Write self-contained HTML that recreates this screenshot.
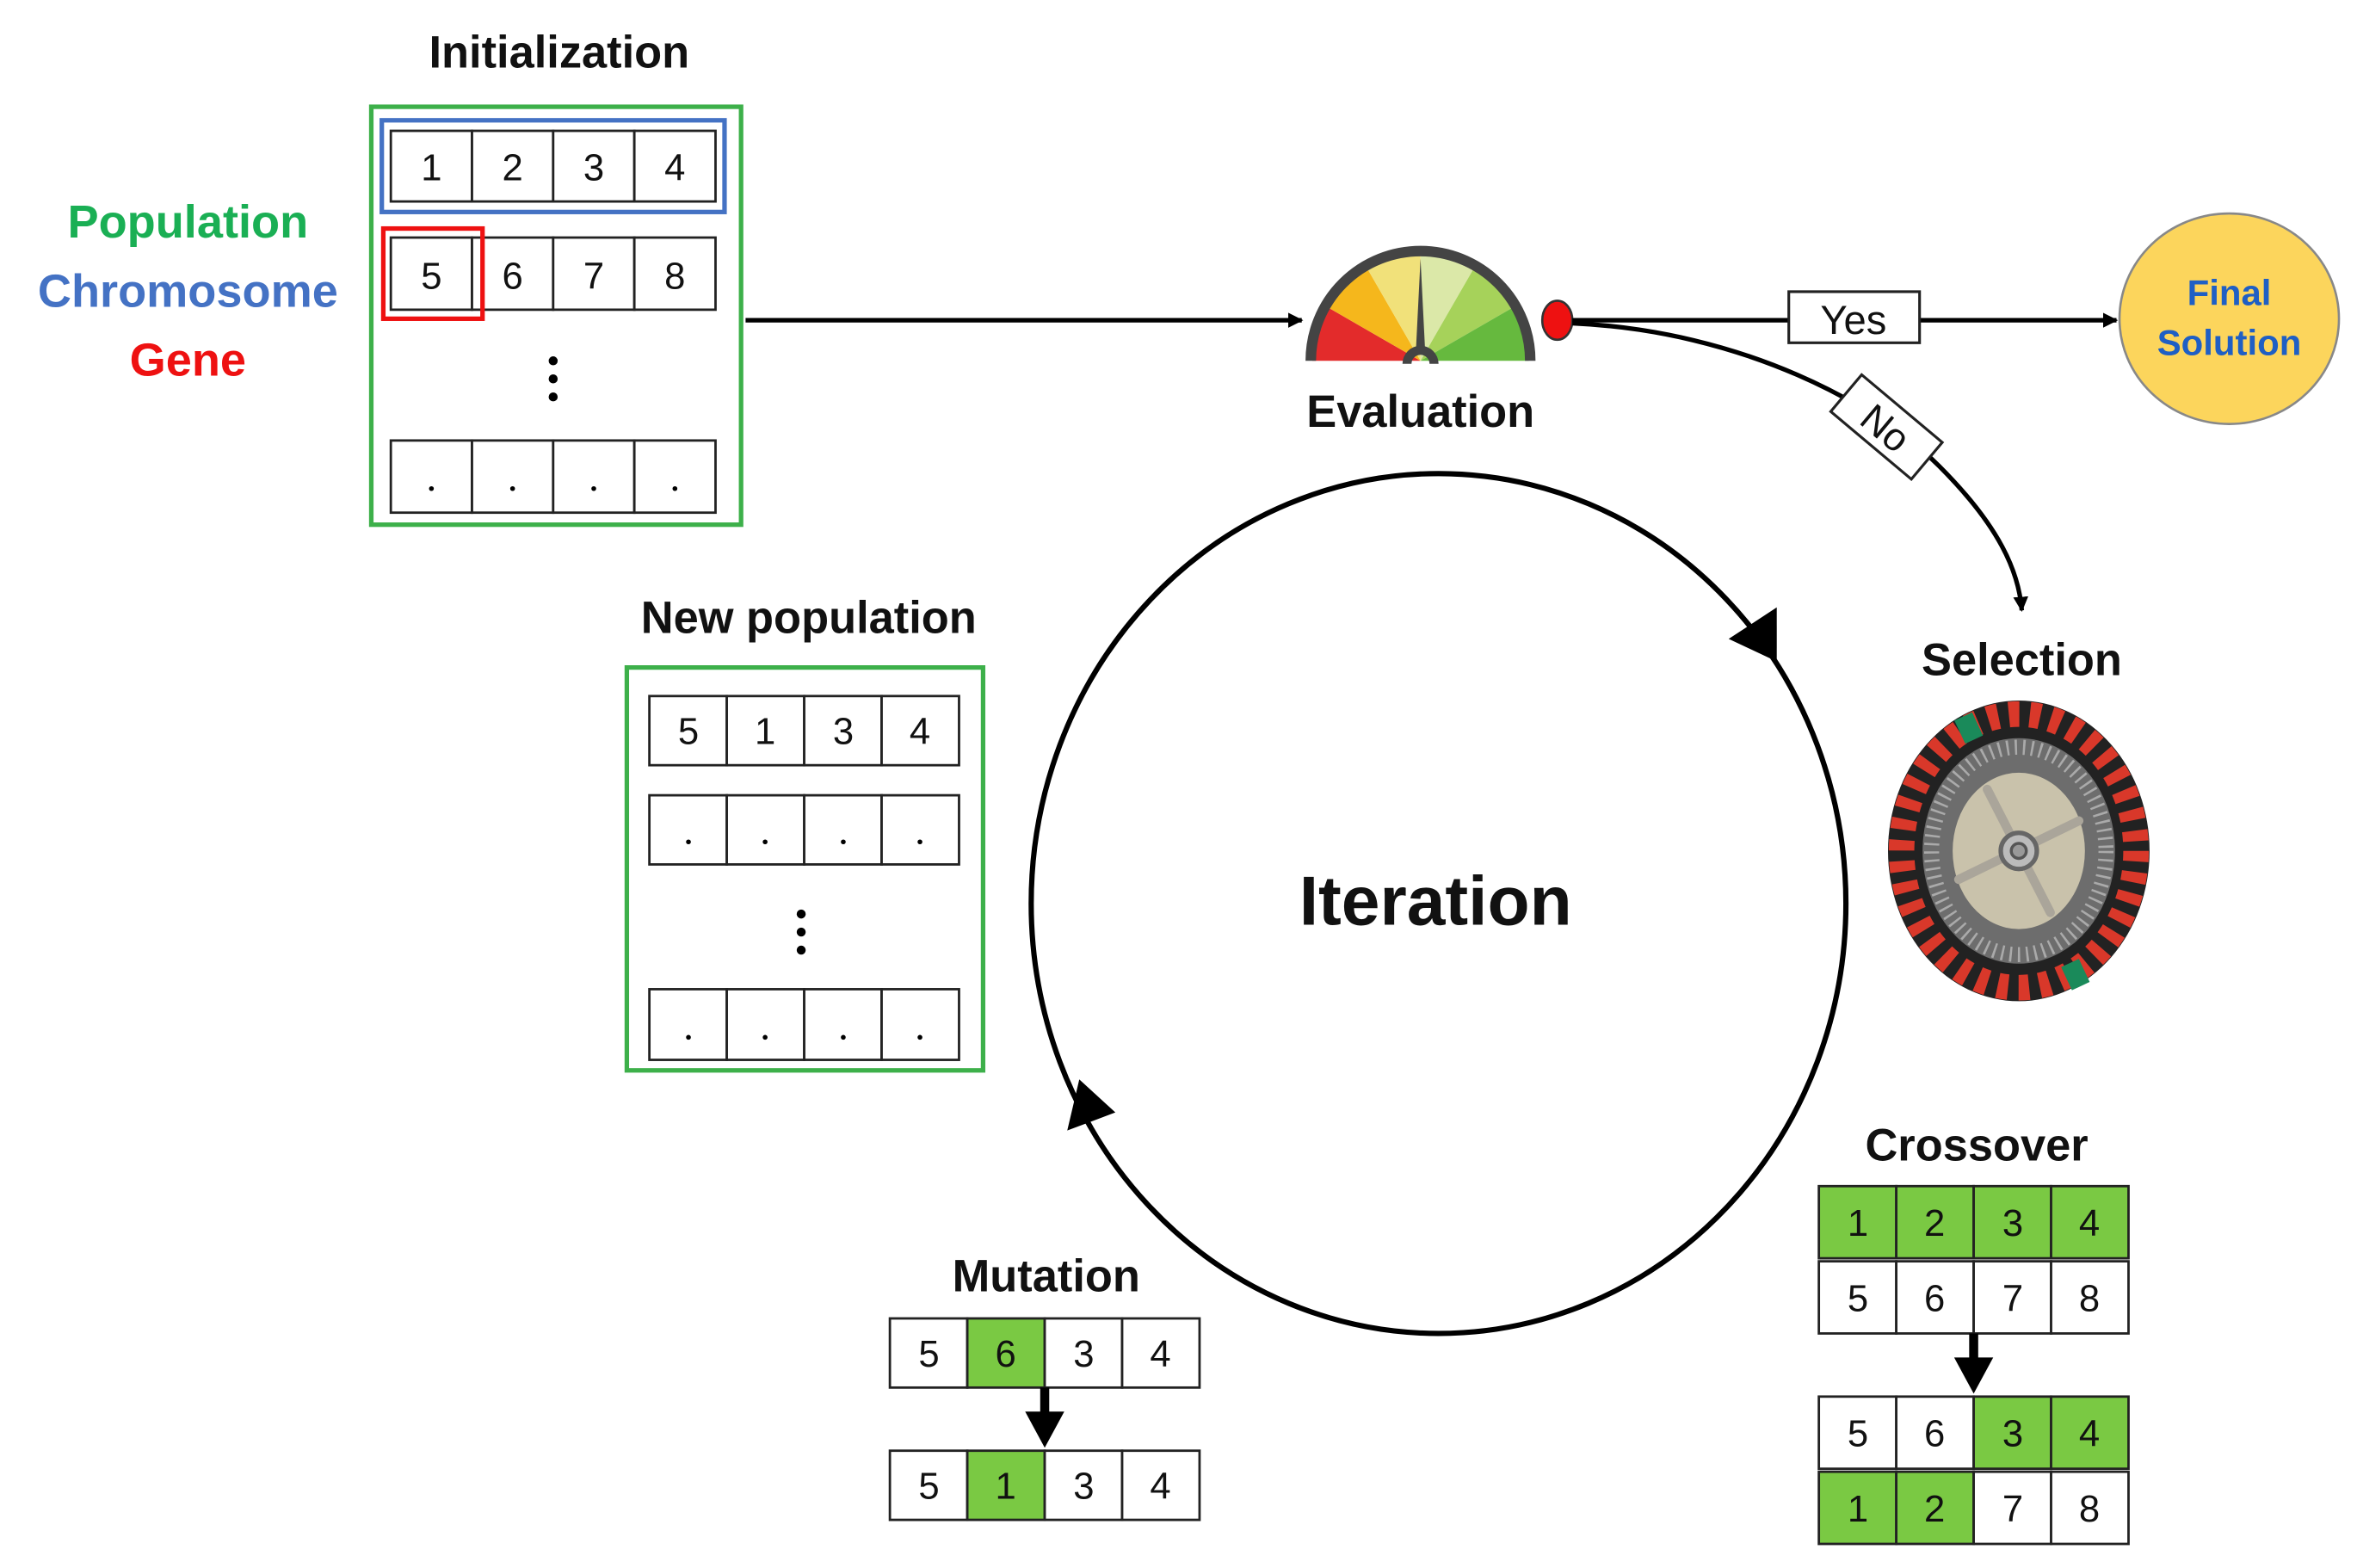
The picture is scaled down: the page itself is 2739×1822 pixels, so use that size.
<!DOCTYPE html>
<html><head><meta charset="utf-8"><style>
html,body{margin:0;padding:0;background:#fff}
svg{display:block}
text{font-family:"Liberation Sans",sans-serif}
.b{font-weight:bold}
.c{fill:#fff;stroke:#222;stroke-width:1.6}
.g{fill:#7ac943;stroke:#222;stroke-width:1.6}
.n{font-size:25px;text-anchor:middle;fill:#111}
.t{font-size:30px;font-weight:bold;text-anchor:middle;fill:#111}
</style></head><body>
<svg width="2739" height="1822" viewBox="0 0 1568 1043" xmlns="http://www.w3.org/2000/svg">
<defs>
<marker id="ah" markerWidth="10" markerHeight="10" refX="9" refY="5" orient="auto" markerUnits="userSpaceOnUse"><path d="M0,0 L10,5 L0,10 z" fill="#000"/></marker>
</defs>
<rect width="1568" height="1043" fill="#fff"/>

<!-- Initialization -->
<text class="t" x="372" y="45">Initialization</text>
<text class="b" x="125" y="158" font-size="31" text-anchor="middle" fill="#1aaf54">Population</text>
<text class="b" x="125" y="204" font-size="31" text-anchor="middle" fill="#4472c4">Chromosome</text>
<text class="b" x="125" y="250" font-size="31" text-anchor="middle" fill="#ee1111">Gene</text>
<rect x="247" y="71" width="246" height="278" fill="none" stroke="#3db04a" stroke-width="3"/>
<rect x="254" y="80" width="228" height="61" fill="none" stroke="#4472c4" stroke-width="3"/>
<g>
<rect class="c" x="260" y="87" width="54" height="47"/><rect class="c" x="314" y="87" width="54" height="47"/><rect class="c" x="368" y="87" width="54" height="47"/><rect class="c" x="422" y="87" width="54" height="47"/>
<text class="n" x="287" y="120">1</text><text class="n" x="341" y="120">2</text><text class="n" x="395" y="120">3</text><text class="n" x="449" y="120">4</text>
<rect class="c" x="260" y="158" width="54" height="48"/><rect class="c" x="314" y="158" width="54" height="48"/><rect class="c" x="368" y="158" width="54" height="48"/><rect class="c" x="422" y="158" width="54" height="48"/>
<text class="n" x="287" y="192">5</text><text class="n" x="341" y="192">6</text><text class="n" x="395" y="192">7</text><text class="n" x="449" y="192">8</text>
<rect x="255" y="152" width="66" height="60" fill="none" stroke="#ee1111" stroke-width="3"/>
<circle cx="368" cy="240" r="3"/><circle cx="368" cy="252" r="3"/><circle cx="368" cy="264" r="3"/>
<rect class="c" x="260" y="293" width="54" height="48"/><rect class="c" x="314" y="293" width="54" height="48"/><rect class="c" x="368" y="293" width="54" height="48"/><rect class="c" x="422" y="293" width="54" height="48"/>
<circle cx="287" cy="325" r="1.6"/><circle cx="341" cy="325" r="1.6"/><circle cx="395" cy="325" r="1.6"/><circle cx="449" cy="325" r="1.6"/>
</g>
<line x1="496" y1="213" x2="866" y2="213" stroke="#000" stroke-width="3" marker-end="url(#ah)"/>

<!-- Gauge -->
<g transform="translate(945,240)">
<path d="M-72,0 A72,72 0 0 1 -62.4,-36 L0,0 z" fill="#e32b2b"/>
<path d="M-62.4,-36 A72,72 0 0 1 -36,-62.4 L0,0 z" fill="#f5b71c"/>
<path d="M-36,-62.4 A72,72 0 0 1 0,-72 L0,0 z" fill="#f1e17a"/>
<path d="M0,-72 A72,72 0 0 1 36,-62.4 L0,0 z" fill="#dbe8a8"/>
<path d="M36,-62.4 A72,72 0 0 1 62.4,-36 L0,0 z" fill="#a6d25a"/>
<path d="M62.4,-36 A72,72 0 0 1 72,0 L0,0 z" fill="#66b93e"/>
<path d="M-73,0 A73,73 0 0 1 73,0" fill="none" stroke="#444" stroke-width="7"/>
<path d="M-12,2 A12,12 0 0 1 12,2 L6,2 A6,6 0 0 0 -6,2 z" fill="#444"/>
<path d="M-3,-8 L0,-68 L3,-8 z" fill="#444"/>
</g>
<text class="t" x="945" y="284">Evaluation</text>
<ellipse cx="1036" cy="213" rx="10" ry="13" fill="#ee1111" stroke="#333" stroke-width="1.5"/>
<line x1="1046" y1="213" x2="1408" y2="213" stroke="#000" stroke-width="3" marker-end="url(#ah)"/>
<rect x="1190" y="194" width="87" height="34" fill="#fff" stroke="#222" stroke-width="1.8"/>
<text x="1233" y="222" font-size="27" text-anchor="middle" fill="#111">Yes</text>
<ellipse cx="1483" cy="212" rx="73" ry="70" fill="#fcd55c" stroke="#888" stroke-width="1.5"/>
<text class="b" x="1483" y="203" font-size="24" text-anchor="middle" fill="#1f5fc4">Final</text>
<text class="b" x="1483" y="236" font-size="24" text-anchor="middle" fill="#1f5fc4">Solution</text>
<path d="M1046,215 C1160,220 1250,270 1290,310 C1330,350 1343,380 1345,406" fill="none" stroke="#000" stroke-width="3" marker-end="url(#ah)"/>
<g transform="translate(1255,284) rotate(40)">
<rect x="-35" y="-16" width="70" height="32" fill="#fff" stroke="#222" stroke-width="1.8"/>
<text x="0" y="10" font-size="26" text-anchor="middle" fill="#111">No</text>
</g>

<!-- Iteration circle -->
<ellipse cx="957" cy="601" rx="271" ry="286" fill="none" stroke="#000" stroke-width="3.5"/>
<path d="M1150,425 L1182,404 L1182,440 z" fill="#000"/>
<path d="M710,752 L742,740 L718,718 z" fill="#000"/>
<text class="b" x="955" y="615" font-size="46" text-anchor="middle" fill="#111">Iteration</text>

<!-- New population -->
<text class="t" x="538" y="421">New population</text>
<rect x="417" y="444" width="237" height="268" fill="none" stroke="#3db04a" stroke-width="3"/>
<rect class="c" x="432" y="463" width="51.5" height="46"/><rect class="c" x="483.5" y="463" width="51.5" height="46"/><rect class="c" x="535" y="463" width="51.5" height="46"/><rect class="c" x="586.5" y="463" width="51.5" height="46"/>
<text class="n" x="458" y="495">5</text><text class="n" x="509" y="495">1</text><text class="n" x="561" y="495">3</text><text class="n" x="612" y="495">4</text>
<rect class="c" x="432" y="529" width="51.5" height="46"/><rect class="c" x="483.5" y="529" width="51.5" height="46"/><rect class="c" x="535" y="529" width="51.5" height="46"/><rect class="c" x="586.5" y="529" width="51.5" height="46"/>
<circle cx="458" cy="560" r="1.6"/><circle cx="509" cy="560" r="1.6"/><circle cx="561" cy="560" r="1.6"/><circle cx="612" cy="560" r="1.6"/>
<circle cx="533" cy="608" r="3"/><circle cx="533" cy="620" r="3"/><circle cx="533" cy="632" r="3"/>
<rect class="c" x="432" y="658" width="51.5" height="47"/><rect class="c" x="483.5" y="658" width="51.5" height="47"/><rect class="c" x="535" y="658" width="51.5" height="47"/><rect class="c" x="586.5" y="658" width="51.5" height="47"/>
<circle cx="458" cy="690" r="1.6"/><circle cx="509" cy="690" r="1.6"/><circle cx="561" cy="690" r="1.6"/><circle cx="612" cy="690" r="1.6"/>

<!-- Selection -->
<text class="t" x="1345" y="449">Selection</text>
<g>
<ellipse cx="1343" cy="566" rx="87" ry="100" fill="#222"/>
<ellipse cx="1343" cy="566" rx="78" ry="91" fill="none" stroke="#d9382a" stroke-width="17" stroke-dasharray="7 7"/>
<ellipse cx="1343" cy="566" rx="64" ry="75" fill="#6d6d6d"/>
<ellipse cx="1343" cy="566" rx="58" ry="69" fill="none" stroke="#aaa" stroke-width="10" stroke-dasharray="1.5 4"/>
<ellipse cx="1343" cy="566" rx="44" ry="52" fill="#c9c2ab"/>
<path d="M1322,525 L1364,607 M1303,585 L1383,546" stroke="#aaa59a" stroke-width="6" stroke-linecap="round"/>
<circle cx="1343" cy="566" r="12" fill="#bbb" stroke="#666" stroke-width="3"/>
<circle cx="1343" cy="566" r="5" fill="#999" stroke="#555" stroke-width="2"/>
<rect x="1303" y="476" width="13" height="17" fill="#1a8a5a" transform="rotate(-25 1309 484)"/>
<rect x="1374" y="640" width="13" height="17" fill="#1a8a5a" transform="rotate(-25 1380 648)"/>
</g>

<!-- Crossover -->
<text class="t" x="1315" y="772">Crossover</text>
<rect class="g" x="1210" y="789" width="51.5" height="48"/><rect class="g" x="1261.5" y="789" width="51.5" height="48"/><rect class="g" x="1313" y="789" width="51.5" height="48"/><rect class="g" x="1364.5" y="789" width="51.5" height="48"/>
<text class="n" x="1236" y="822">1</text><text class="n" x="1287" y="822">2</text><text class="n" x="1339" y="822">3</text><text class="n" x="1390" y="822">4</text>
<rect class="c" x="1210" y="839" width="51.5" height="48"/><rect class="c" x="1261.5" y="839" width="51.5" height="48"/><rect class="c" x="1313" y="839" width="51.5" height="48"/><rect class="c" x="1364.5" y="839" width="51.5" height="48"/>
<text class="n" x="1236" y="872">5</text><text class="n" x="1287" y="872">6</text><text class="n" x="1339" y="872">7</text><text class="n" x="1390" y="872">8</text>
<rect x="1310" y="887" width="6" height="18" fill="#000"/><path d="M1300,903 L1326,903 L1313,927 z" fill="#000"/>
<rect class="c" x="1210" y="929" width="51.5" height="48"/><rect class="c" x="1261.5" y="929" width="51.5" height="48"/><rect class="g" x="1313" y="929" width="51.5" height="48"/><rect class="g" x="1364.5" y="929" width="51.5" height="48"/>
<text class="n" x="1236" y="962">5</text><text class="n" x="1287" y="962">6</text><text class="n" x="1339" y="962">3</text><text class="n" x="1390" y="962">4</text>
<rect class="g" x="1210" y="979" width="51.5" height="48"/><rect class="g" x="1261.5" y="979" width="51.5" height="48"/><rect class="c" x="1313" y="979" width="51.5" height="48"/><rect class="c" x="1364.5" y="979" width="51.5" height="48"/>
<text class="n" x="1236" y="1012">1</text><text class="n" x="1287" y="1012">2</text><text class="n" x="1339" y="1012">7</text><text class="n" x="1390" y="1012">8</text>

<!-- Mutation -->
<text class="t" x="696" y="859">Mutation</text>
<rect class="c" x="592" y="877" width="51.5" height="46"/><rect class="g" x="643.5" y="877" width="51.5" height="46"/><rect class="c" x="695" y="877" width="51.5" height="46"/><rect class="c" x="746.5" y="877" width="51.5" height="46"/>
<text class="n" x="618" y="909">5</text><text class="n" x="669" y="909">6</text><text class="n" x="721" y="909">3</text><text class="n" x="772" y="909">4</text>
<rect x="692" y="923" width="6" height="18" fill="#000"/><path d="M682,939 L708,939 L695,963 z" fill="#000"/>
<rect class="c" x="592" y="965" width="51.5" height="46"/><rect class="g" x="643.5" y="965" width="51.5" height="46"/><rect class="c" x="695" y="965" width="51.5" height="46"/><rect class="c" x="746.5" y="965" width="51.5" height="46"/>
<text class="n" x="618" y="997">5</text><text class="n" x="669" y="997">1</text><text class="n" x="721" y="997">3</text><text class="n" x="772" y="997">4</text>
</svg>
</body></html>
